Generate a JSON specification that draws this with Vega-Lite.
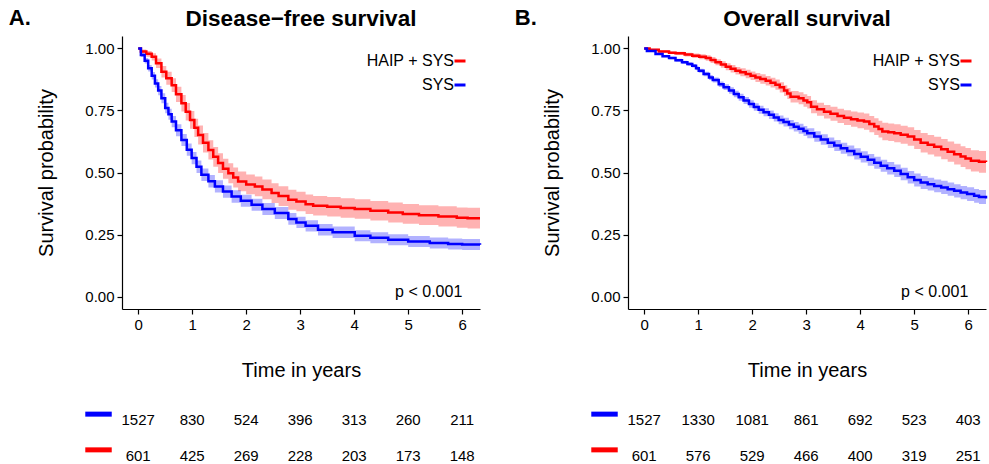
{
  "$schema": "https://vega.github.io/schema/vega-lite/v6.json",
  "padding": {"left": 8, "top": 6, "right": 0, "bottom": 0},
  "config": {
    "view": {"stroke": null},
    "font": "Liberation Sans",
    "axis": {"grid": false, "domainColor": "black", "tickColor": "black", "labelColor": "black", "titleColor": "black", "labelFontSize": 15, "titleFontSize": 20, "titleFontWeight": "normal", "tickSize": 5, "labelPadding": 3, "domainWidth": 1.2, "tickWidth": 1.2, "labelFont": "Liberation Sans", "titleFont": "Liberation Sans"},
    "axisX": {"titlePadding": 28},
    "axisY": {"titlePadding": 28},
    "title": {"font": "Liberation Sans", "color": "black"},
    "text": {"font": "Liberation Sans", "color": "black"}
  },
  "datasets": {
    "dfs": [
      {"g":"HAIP + SYS","t":0,"s":1,"lo":1,"hi":1},
      {"g":"HAIP + SYS","t":0.05,"s":0.988,"lo":0.98,"hi":0.996},
      {"g":"HAIP + SYS","t":0.15,"s":0.978,"lo":0.966,"hi":0.99},
      {"g":"HAIP + SYS","t":0.25,"s":0.966,"lo":0.951,"hi":0.981},
      {"g":"HAIP + SYS","t":0.33,"s":0.94,"lo":0.921,"hi":0.959},
      {"g":"HAIP + SYS","t":0.43,"s":0.906,"lo":0.883,"hi":0.929},
      {"g":"HAIP + SYS","t":0.52,"s":0.88,"lo":0.854,"hi":0.906},
      {"g":"HAIP + SYS","t":0.62,"s":0.852,"lo":0.824,"hi":0.88},
      {"g":"HAIP + SYS","t":0.7,"s":0.815,"lo":0.784,"hi":0.846},
      {"g":"HAIP + SYS","t":0.8,"s":0.779,"lo":0.746,"hi":0.812},
      {"g":"HAIP + SYS","t":0.88,"s":0.745,"lo":0.71,"hi":0.78},
      {"g":"HAIP + SYS","t":0.96,"s":0.712,"lo":0.676,"hi":0.748},
      {"g":"HAIP + SYS","t":1.04,"s":0.68,"lo":0.643,"hi":0.717},
      {"g":"HAIP + SYS","t":1.11,"s":0.651,"lo":0.613,"hi":0.689},
      {"g":"HAIP + SYS","t":1.2,"s":0.62,"lo":0.581,"hi":0.659},
      {"g":"HAIP + SYS","t":1.3,"s":0.591,"lo":0.552,"hi":0.63},
      {"g":"HAIP + SYS","t":1.39,"s":0.563,"lo":0.523,"hi":0.603},
      {"g":"HAIP + SYS","t":1.48,"s":0.538,"lo":0.498,"hi":0.578},
      {"g":"HAIP + SYS","t":1.57,"s":0.515,"lo":0.475,"hi":0.555},
      {"g":"HAIP + SYS","t":1.67,"s":0.497,"lo":0.457,"hi":0.537},
      {"g":"HAIP + SYS","t":1.76,"s":0.48,"lo":0.44,"hi":0.52},
      {"g":"HAIP + SYS","t":1.85,"s":0.464,"lo":0.424,"hi":0.504},
      {"g":"HAIP + SYS","t":2.0,"s":0.452,"lo":0.412,"hi":0.492},
      {"g":"HAIP + SYS","t":2.16,"s":0.444,"lo":0.404,"hi":0.484},
      {"g":"HAIP + SYS","t":2.3,"s":0.432,"lo":0.392,"hi":0.472},
      {"g":"HAIP + SYS","t":2.47,"s":0.417,"lo":0.377,"hi":0.457},
      {"g":"HAIP + SYS","t":2.6,"s":0.405,"lo":0.365,"hi":0.445},
      {"g":"HAIP + SYS","t":2.78,"s":0.39,"lo":0.35,"hi":0.43},
      {"g":"HAIP + SYS","t":2.93,"s":0.383,"lo":0.344,"hi":0.422},
      {"g":"HAIP + SYS","t":3.1,"s":0.372,"lo":0.333,"hi":0.411},
      {"g":"HAIP + SYS","t":3.24,"s":0.366,"lo":0.327,"hi":0.405},
      {"g":"HAIP + SYS","t":3.5,"s":0.362,"lo":0.323,"hi":0.401},
      {"g":"HAIP + SYS","t":3.75,"s":0.357,"lo":0.318,"hi":0.396},
      {"g":"HAIP + SYS","t":4.01,"s":0.353,"lo":0.314,"hi":0.392},
      {"g":"HAIP + SYS","t":4.3,"s":0.346,"lo":0.307,"hi":0.385},
      {"g":"HAIP + SYS","t":4.63,"s":0.339,"lo":0.299,"hi":0.379},
      {"g":"HAIP + SYS","t":4.9,"s":0.333,"lo":0.293,"hi":0.373},
      {"g":"HAIP + SYS","t":5.2,"s":0.328,"lo":0.288,"hi":0.368},
      {"g":"HAIP + SYS","t":5.56,"s":0.323,"lo":0.282,"hi":0.364},
      {"g":"HAIP + SYS","t":5.9,"s":0.318,"lo":0.277,"hi":0.359},
      {"g":"HAIP + SYS","t":6.1,"s":0.316,"lo":0.274,"hi":0.358},
      {"g":"HAIP + SYS","t":6.33,"s":0.316,"lo":0.274,"hi":0.358},
      {"g":"SYS","t":0,"s":1,"lo":1,"hi":1},
      {"g":"SYS","t":0.05,"s":0.973,"lo":0.965,"hi":0.981},
      {"g":"SYS","t":0.12,"s":0.95,"lo":0.939,"hi":0.961},
      {"g":"SYS","t":0.185,"s":0.92,"lo":0.907,"hi":0.933},
      {"g":"SYS","t":0.25,"s":0.89,"lo":0.875,"hi":0.905},
      {"g":"SYS","t":0.31,"s":0.859,"lo":0.842,"hi":0.876},
      {"g":"SYS","t":0.37,"s":0.83,"lo":0.811,"hi":0.849},
      {"g":"SYS","t":0.43,"s":0.799,"lo":0.779,"hi":0.819},
      {"g":"SYS","t":0.5,"s":0.76,"lo":0.739,"hi":0.781},
      {"g":"SYS","t":0.56,"s":0.735,"lo":0.713,"hi":0.757},
      {"g":"SYS","t":0.62,"s":0.705,"lo":0.682,"hi":0.728},
      {"g":"SYS","t":0.7,"s":0.67,"lo":0.646,"hi":0.694},
      {"g":"SYS","t":0.8,"s":0.631,"lo":0.607,"hi":0.655},
      {"g":"SYS","t":0.9,"s":0.592,"lo":0.567,"hi":0.617},
      {"g":"SYS","t":0.99,"s":0.558,"lo":0.533,"hi":0.583},
      {"g":"SYS","t":1.08,"s":0.523,"lo":0.498,"hi":0.548},
      {"g":"SYS","t":1.17,"s":0.491,"lo":0.466,"hi":0.516},
      {"g":"SYS","t":1.3,"s":0.465,"lo":0.44,"hi":0.49},
      {"g":"SYS","t":1.42,"s":0.444,"lo":0.419,"hi":0.469},
      {"g":"SYS","t":1.57,"s":0.423,"lo":0.398,"hi":0.448},
      {"g":"SYS","t":1.73,"s":0.403,"lo":0.378,"hi":0.428},
      {"g":"SYS","t":1.9,"s":0.386,"lo":0.362,"hi":0.41},
      {"g":"SYS","t":2.1,"s":0.37,"lo":0.346,"hi":0.394},
      {"g":"SYS","t":2.3,"s":0.353,"lo":0.329,"hi":0.377},
      {"g":"SYS","t":2.53,"s":0.337,"lo":0.313,"hi":0.361},
      {"g":"SYS","t":2.78,"s":0.313,"lo":0.289,"hi":0.337},
      {"g":"SYS","t":2.93,"s":0.299,"lo":0.276,"hi":0.322},
      {"g":"SYS","t":3.1,"s":0.285,"lo":0.262,"hi":0.308},
      {"g":"SYS","t":3.33,"s":0.269,"lo":0.246,"hi":0.292},
      {"g":"SYS","t":3.6,"s":0.259,"lo":0.236,"hi":0.282},
      {"g":"SYS","t":4.01,"s":0.245,"lo":0.223,"hi":0.267},
      {"g":"SYS","t":4.3,"s":0.237,"lo":0.215,"hi":0.259},
      {"g":"SYS","t":4.63,"s":0.229,"lo":0.207,"hi":0.251},
      {"g":"SYS","t":5.0,"s":0.222,"lo":0.2,"hi":0.244},
      {"g":"SYS","t":5.4,"s":0.216,"lo":0.194,"hi":0.238},
      {"g":"SYS","t":5.74,"s":0.212,"lo":0.19,"hi":0.234},
      {"g":"SYS","t":6.0,"s":0.21,"lo":0.188,"hi":0.232},
      {"g":"SYS","t":6.33,"s":0.209,"lo":0.187,"hi":0.231}
    ],
    "os": [
      {"g":"HAIP + SYS","t":0,"s":1,"lo":1,"hi":1},
      {"g":"HAIP + SYS","t":0.1,"s":0.995,"lo":0.991,"hi":0.999},
      {"g":"HAIP + SYS","t":0.27,"s":0.988,"lo":0.983,"hi":0.993},
      {"g":"HAIP + SYS","t":0.46,"s":0.983,"lo":0.978,"hi":0.988},
      {"g":"HAIP + SYS","t":0.58,"s":0.98,"lo":0.973,"hi":0.987},
      {"g":"HAIP + SYS","t":0.75,"s":0.975,"lo":0.967,"hi":0.983},
      {"g":"HAIP + SYS","t":0.89,"s":0.97,"lo":0.961,"hi":0.979},
      {"g":"HAIP + SYS","t":1.02,"s":0.966,"lo":0.956,"hi":0.976},
      {"g":"HAIP + SYS","t":1.14,"s":0.961,"lo":0.95,"hi":0.972},
      {"g":"HAIP + SYS","t":1.23,"s":0.953,"lo":0.941,"hi":0.965},
      {"g":"HAIP + SYS","t":1.32,"s":0.944,"lo":0.932,"hi":0.956},
      {"g":"HAIP + SYS","t":1.42,"s":0.935,"lo":0.922,"hi":0.948},
      {"g":"HAIP + SYS","t":1.51,"s":0.926,"lo":0.912,"hi":0.94},
      {"g":"HAIP + SYS","t":1.6,"s":0.918,"lo":0.903,"hi":0.933},
      {"g":"HAIP + SYS","t":1.69,"s":0.91,"lo":0.895,"hi":0.925},
      {"g":"HAIP + SYS","t":1.78,"s":0.904,"lo":0.888,"hi":0.92},
      {"g":"HAIP + SYS","t":1.88,"s":0.897,"lo":0.88,"hi":0.914},
      {"g":"HAIP + SYS","t":1.97,"s":0.89,"lo":0.873,"hi":0.907},
      {"g":"HAIP + SYS","t":2.06,"s":0.883,"lo":0.865,"hi":0.901},
      {"g":"HAIP + SYS","t":2.15,"s":0.877,"lo":0.858,"hi":0.896},
      {"g":"HAIP + SYS","t":2.25,"s":0.87,"lo":0.851,"hi":0.889},
      {"g":"HAIP + SYS","t":2.34,"s":0.862,"lo":0.842,"hi":0.882},
      {"g":"HAIP + SYS","t":2.43,"s":0.854,"lo":0.833,"hi":0.875},
      {"g":"HAIP + SYS","t":2.51,"s":0.843,"lo":0.822,"hi":0.864},
      {"g":"HAIP + SYS","t":2.59,"s":0.83,"lo":0.808,"hi":0.852},
      {"g":"HAIP + SYS","t":2.65,"s":0.818,"lo":0.796,"hi":0.84},
      {"g":"HAIP + SYS","t":2.71,"s":0.805,"lo":0.782,"hi":0.828},
      {"g":"HAIP + SYS","t":2.86,"s":0.799,"lo":0.775,"hi":0.823},
      {"g":"HAIP + SYS","t":2.95,"s":0.79,"lo":0.765,"hi":0.815},
      {"g":"HAIP + SYS","t":3.02,"s":0.783,"lo":0.758,"hi":0.808},
      {"g":"HAIP + SYS","t":3.09,"s":0.765,"lo":0.739,"hi":0.791},
      {"g":"HAIP + SYS","t":3.2,"s":0.755,"lo":0.729,"hi":0.781},
      {"g":"HAIP + SYS","t":3.33,"s":0.745,"lo":0.718,"hi":0.772},
      {"g":"HAIP + SYS","t":3.45,"s":0.737,"lo":0.709,"hi":0.765},
      {"g":"HAIP + SYS","t":3.58,"s":0.728,"lo":0.699,"hi":0.757},
      {"g":"HAIP + SYS","t":3.7,"s":0.721,"lo":0.691,"hi":0.751},
      {"g":"HAIP + SYS","t":3.83,"s":0.715,"lo":0.684,"hi":0.746},
      {"g":"HAIP + SYS","t":3.95,"s":0.71,"lo":0.678,"hi":0.742},
      {"g":"HAIP + SYS","t":4.07,"s":0.705,"lo":0.672,"hi":0.738},
      {"g":"HAIP + SYS","t":4.17,"s":0.695,"lo":0.662,"hi":0.728},
      {"g":"HAIP + SYS","t":4.26,"s":0.685,"lo":0.651,"hi":0.719},
      {"g":"HAIP + SYS","t":4.34,"s":0.675,"lo":0.641,"hi":0.709},
      {"g":"HAIP + SYS","t":4.41,"s":0.665,"lo":0.63,"hi":0.7},
      {"g":"HAIP + SYS","t":4.52,"s":0.662,"lo":0.627,"hi":0.697},
      {"g":"HAIP + SYS","t":4.63,"s":0.658,"lo":0.622,"hi":0.694},
      {"g":"HAIP + SYS","t":4.75,"s":0.652,"lo":0.616,"hi":0.688},
      {"g":"HAIP + SYS","t":4.88,"s":0.645,"lo":0.608,"hi":0.682},
      {"g":"HAIP + SYS","t":5.0,"s":0.633,"lo":0.595,"hi":0.671},
      {"g":"HAIP + SYS","t":5.12,"s":0.62,"lo":0.581,"hi":0.659},
      {"g":"HAIP + SYS","t":5.25,"s":0.612,"lo":0.573,"hi":0.651},
      {"g":"HAIP + SYS","t":5.37,"s":0.604,"lo":0.564,"hi":0.644},
      {"g":"HAIP + SYS","t":5.5,"s":0.594,"lo":0.553,"hi":0.635},
      {"g":"HAIP + SYS","t":5.62,"s":0.584,"lo":0.543,"hi":0.625},
      {"g":"HAIP + SYS","t":5.74,"s":0.574,"lo":0.532,"hi":0.616},
      {"g":"HAIP + SYS","t":5.86,"s":0.564,"lo":0.522,"hi":0.606},
      {"g":"HAIP + SYS","t":5.95,"s":0.556,"lo":0.513,"hi":0.599},
      {"g":"HAIP + SYS","t":6.05,"s":0.547,"lo":0.504,"hi":0.59},
      {"g":"HAIP + SYS","t":6.2,"s":0.543,"lo":0.499,"hi":0.587},
      {"g":"HAIP + SYS","t":6.33,"s":0.542,"lo":0.498,"hi":0.586},
      {"g":"SYS","t":0,"s":1,"lo":1,"hi":1},
      {"g":"SYS","t":0.05,"s":0.99,"lo":0.987,"hi":0.993},
      {"g":"SYS","t":0.21,"s":0.977,"lo":0.973,"hi":0.981},
      {"g":"SYS","t":0.34,"s":0.968,"lo":0.964,"hi":0.972},
      {"g":"SYS","t":0.46,"s":0.961,"lo":0.956,"hi":0.966},
      {"g":"SYS","t":0.58,"s":0.952,"lo":0.946,"hi":0.958},
      {"g":"SYS","t":0.7,"s":0.944,"lo":0.938,"hi":0.95},
      {"g":"SYS","t":0.8,"s":0.937,"lo":0.93,"hi":0.944},
      {"g":"SYS","t":0.89,"s":0.93,"lo":0.923,"hi":0.937},
      {"g":"SYS","t":0.96,"s":0.92,"lo":0.912,"hi":0.928},
      {"g":"SYS","t":1.01,"s":0.91,"lo":0.902,"hi":0.918},
      {"g":"SYS","t":1.1,"s":0.897,"lo":0.888,"hi":0.906},
      {"g":"SYS","t":1.2,"s":0.883,"lo":0.873,"hi":0.893},
      {"g":"SYS","t":1.27,"s":0.873,"lo":0.863,"hi":0.883},
      {"g":"SYS","t":1.38,"s":0.856,"lo":0.845,"hi":0.867},
      {"g":"SYS","t":1.47,"s":0.844,"lo":0.832,"hi":0.856},
      {"g":"SYS","t":1.57,"s":0.83,"lo":0.817,"hi":0.843},
      {"g":"SYS","t":1.66,"s":0.816,"lo":0.803,"hi":0.829},
      {"g":"SYS","t":1.75,"s":0.803,"lo":0.789,"hi":0.817},
      {"g":"SYS","t":1.84,"s":0.79,"lo":0.776,"hi":0.804},
      {"g":"SYS","t":1.94,"s":0.776,"lo":0.761,"hi":0.791},
      {"g":"SYS","t":2.03,"s":0.764,"lo":0.749,"hi":0.779},
      {"g":"SYS","t":2.12,"s":0.753,"lo":0.737,"hi":0.769},
      {"g":"SYS","t":2.21,"s":0.743,"lo":0.727,"hi":0.759},
      {"g":"SYS","t":2.31,"s":0.733,"lo":0.716,"hi":0.75},
      {"g":"SYS","t":2.4,"s":0.722,"lo":0.705,"hi":0.739},
      {"g":"SYS","t":2.49,"s":0.712,"lo":0.694,"hi":0.73},
      {"g":"SYS","t":2.58,"s":0.703,"lo":0.685,"hi":0.721},
      {"g":"SYS","t":2.68,"s":0.693,"lo":0.674,"hi":0.712},
      {"g":"SYS","t":2.77,"s":0.684,"lo":0.665,"hi":0.703},
      {"g":"SYS","t":2.86,"s":0.676,"lo":0.656,"hi":0.696},
      {"g":"SYS","t":2.95,"s":0.667,"lo":0.647,"hi":0.687},
      {"g":"SYS","t":3.02,"s":0.658,"lo":0.638,"hi":0.678},
      {"g":"SYS","t":3.15,"s":0.645,"lo":0.624,"hi":0.666},
      {"g":"SYS","t":3.27,"s":0.633,"lo":0.612,"hi":0.654},
      {"g":"SYS","t":3.4,"s":0.62,"lo":0.599,"hi":0.641},
      {"g":"SYS","t":3.52,"s":0.609,"lo":0.587,"hi":0.631},
      {"g":"SYS","t":3.64,"s":0.598,"lo":0.576,"hi":0.62},
      {"g":"SYS","t":3.76,"s":0.587,"lo":0.565,"hi":0.609},
      {"g":"SYS","t":3.89,"s":0.575,"lo":0.552,"hi":0.598},
      {"g":"SYS","t":4.01,"s":0.563,"lo":0.54,"hi":0.586},
      {"g":"SYS","t":4.14,"s":0.551,"lo":0.527,"hi":0.575},
      {"g":"SYS","t":4.26,"s":0.539,"lo":0.515,"hi":0.563},
      {"g":"SYS","t":4.38,"s":0.527,"lo":0.503,"hi":0.551},
      {"g":"SYS","t":4.5,"s":0.517,"lo":0.492,"hi":0.542},
      {"g":"SYS","t":4.63,"s":0.507,"lo":0.482,"hi":0.532},
      {"g":"SYS","t":4.75,"s":0.494,"lo":0.469,"hi":0.519},
      {"g":"SYS","t":4.88,"s":0.481,"lo":0.456,"hi":0.506},
      {"g":"SYS","t":5.0,"s":0.47,"lo":0.444,"hi":0.496},
      {"g":"SYS","t":5.12,"s":0.46,"lo":0.434,"hi":0.486},
      {"g":"SYS","t":5.25,"s":0.453,"lo":0.427,"hi":0.479},
      {"g":"SYS","t":5.37,"s":0.446,"lo":0.42,"hi":0.472},
      {"g":"SYS","t":5.5,"s":0.44,"lo":0.413,"hi":0.467},
      {"g":"SYS","t":5.62,"s":0.433,"lo":0.406,"hi":0.46},
      {"g":"SYS","t":5.74,"s":0.426,"lo":0.399,"hi":0.453},
      {"g":"SYS","t":5.86,"s":0.419,"lo":0.392,"hi":0.446},
      {"g":"SYS","t":5.98,"s":0.413,"lo":0.385,"hi":0.441},
      {"g":"SYS","t":6.11,"s":0.406,"lo":0.378,"hi":0.434},
      {"g":"SYS","t":6.2,"s":0.401,"lo":0.373,"hi":0.429},
      {"g":"SYS","t":6.33,"s":0.395,"lo":0.367,"hi":0.423}
    ],
    "riskDFS": [
      {"g":"SYS","t":0,"n":1527},{"g":"SYS","t":1,"n":830},{"g":"SYS","t":2,"n":524},{"g":"SYS","t":3,"n":396},{"g":"SYS","t":4,"n":313},{"g":"SYS","t":5,"n":260},{"g":"SYS","t":6,"n":211},
      {"g":"HAIP + SYS","t":0,"n":601},{"g":"HAIP + SYS","t":1,"n":425},{"g":"HAIP + SYS","t":2,"n":269},{"g":"HAIP + SYS","t":3,"n":228},{"g":"HAIP + SYS","t":4,"n":203},{"g":"HAIP + SYS","t":5,"n":173},{"g":"HAIP + SYS","t":6,"n":148}
    ],
    "riskOS": [
      {"g":"SYS","t":0,"n":1527},{"g":"SYS","t":1,"n":1330},{"g":"SYS","t":2,"n":1081},{"g":"SYS","t":3,"n":861},{"g":"SYS","t":4,"n":692},{"g":"SYS","t":5,"n":523},{"g":"SYS","t":6,"n":403},
      {"g":"HAIP + SYS","t":0,"n":601},{"g":"HAIP + SYS","t":1,"n":576},{"g":"HAIP + SYS","t":2,"n":529},{"g":"HAIP + SYS","t":3,"n":466},{"g":"HAIP + SYS","t":4,"n":400},{"g":"HAIP + SYS","t":5,"n":319},{"g":"HAIP + SYS","t":6,"n":251}
    ],
    "groups": [{"g":"SYS"},{"g":"HAIP + SYS"}],
    "pval": [{"p":"p < 0.001"}]
  },
  "resolve": {"scale": {"color": "independent", "fill": "independent", "stroke": "independent", "x": "independent", "y": "independent"}, "legend": {"color": "independent"}},
  "spacing": 29,
  "hconcat": [
    {
      "title": {"text": "A.", "orient": "left", "anchor": "end", "angle": 0, "baseline": "top", "fontSize": 22, "fontWeight": "bold", "offset": -16},
      "resolve": {"scale": {"color": "independent", "fill": "independent", "stroke": "independent", "x": "independent", "y": "independent"}, "legend": {"color": "independent"}},
      "spacing": 31,
      "vconcat": [
        {
          "width": 358, "height": 273,
          "title": {"text": "Disease−free survival", "fontSize": 22.5, "fontWeight": "bold", "anchor": "middle", "offset": 6},
          "data": {"name": "dfs"},
          "layer": [
            {
              "mark": {"type": "area", "interpolate": "step-after", "opacity": 0.3},
              "encoding": {
                "x": {"field": "t", "type": "quantitative", "title": "Time in years", "scale": {"domain": [-0.3, 6.33], "nice": false, "zero": false}, "axis": {"values": [0,1,2,3,4,5,6]}},
                "y": {"field": "lo", "type": "quantitative", "title": "Survival probability", "scale": {"domain": [-0.05, 1.05], "nice": false, "zero": false}, "axis": {"values": [0,0.25,0.5,0.75,1], "format": ".2f"}},
                "y2": {"field": "hi"},
                "fill": {"field": "g", "type": "nominal", "scale": {"domain": ["SYS", "HAIP + SYS"], "range": ["#0000FF", "#FF0000"]}, "legend": null}
              }
            },
            {
              "mark": {"type": "line", "interpolate": "step-after", "strokeWidth": 2.5},
              "encoding": {
                "x": {"field": "t", "type": "quantitative"},
                "y": {"field": "s", "type": "quantitative"},
                "color": {"field": "g", "type": "nominal", "scale": {"domain": ["HAIP + SYS", "SYS"], "range": ["#FF0000", "#0000FF"]},
                  "legend": {"title": null, "orient": "none", "legendX": 330, "legendY": 17, "padding": 0, "symbolType": "stroke", "symbolStrokeWidth": 3, "symbolSize": 121, "labelFontSize": 16, "labelColor": "black", "labelFont": "Liberation Sans", "labelAlign": "right", "labelOffset": -14, "rowPadding": 8}}
              }
            },
            {
              "data": {"name": "pval"},
              "mark": {"type": "text", "fontSize": 16, "align": "center", "baseline": "middle"},
              "encoding": {"x": {"datum": 5.38}, "y": {"datum": 0.02}, "text": {"field": "p"}}
            }
          ]
        },
        {
          "width": 358, "height": 50,
          "layer": [
            {
              "data": {"name": "riskDFS"},
              "mark": {"type": "text", "fontSize": 15, "baseline": "middle", "align": "center"},
              "encoding": {
                "x": {"field": "t", "type": "quantitative", "scale": {"domain": [-0.3, 6.33], "nice": false, "zero": false}, "axis": null},
                "y": {"field": "g", "type": "nominal", "scale": {"type": "point", "domain": ["SYS", "HAIP + SYS"], "padding": 0.2}, "axis": null},
                "text": {"field": "n", "type": "quantitative", "format": "d"}
              }
            },
            {
              "data": {"name": "groups"},
              "mark": {"type": "rule", "strokeWidth": 5, "yOffset": -6},
              "encoding": {
                "x": {"datum": -0.98}, "x2": {"datum": -0.49},
                "y": {"field": "g", "type": "nominal"},
                "stroke": {"field": "g", "type": "nominal", "scale": {"domain": ["HAIP + SYS", "SYS"], "range": ["#FF0000", "#0000FF"]}, "legend": null}
              }
            }
          ]
        }
      ]
    },
    {
      "title": {"text": "B.", "orient": "left", "anchor": "end", "angle": 0, "baseline": "top", "fontSize": 22, "fontWeight": "bold", "offset": -16},
      "resolve": {"scale": {"color": "independent", "fill": "independent", "stroke": "independent", "x": "independent", "y": "independent"}, "legend": {"color": "independent"}},
      "spacing": 31,
      "vconcat": [
        {
          "width": 358, "height": 273,
          "title": {"text": "Overall survival", "fontSize": 22.5, "fontWeight": "bold", "anchor": "middle", "offset": 6},
          "data": {"name": "os"},
          "layer": [
            {
              "mark": {"type": "area", "interpolate": "step-after", "opacity": 0.3},
              "encoding": {
                "x": {"field": "t", "type": "quantitative", "title": "Time in years", "scale": {"domain": [-0.3, 6.33], "nice": false, "zero": false}, "axis": {"values": [0,1,2,3,4,5,6]}},
                "y": {"field": "lo", "type": "quantitative", "title": "Survival probability", "scale": {"domain": [-0.05, 1.05], "nice": false, "zero": false}, "axis": {"values": [0,0.25,0.5,0.75,1], "format": ".2f"}},
                "y2": {"field": "hi"},
                "fill": {"field": "g", "type": "nominal", "scale": {"domain": ["SYS", "HAIP + SYS"], "range": ["#0000FF", "#FF0000"]}, "legend": null}
              }
            },
            {
              "mark": {"type": "line", "interpolate": "step-after", "strokeWidth": 2.5},
              "encoding": {
                "x": {"field": "t", "type": "quantitative"},
                "y": {"field": "s", "type": "quantitative"},
                "color": {"field": "g", "type": "nominal", "scale": {"domain": ["HAIP + SYS", "SYS"], "range": ["#FF0000", "#0000FF"]},
                  "legend": {"title": null, "orient": "none", "legendX": 330, "legendY": 17, "padding": 0, "symbolType": "stroke", "symbolStrokeWidth": 3, "symbolSize": 121, "labelFontSize": 16, "labelColor": "black", "labelFont": "Liberation Sans", "labelAlign": "right", "labelOffset": -14, "rowPadding": 8}}
              }
            },
            {
              "data": {"name": "pval"},
              "mark": {"type": "text", "fontSize": 16, "align": "center", "baseline": "middle"},
              "encoding": {"x": {"datum": 5.38}, "y": {"datum": 0.02}, "text": {"field": "p"}}
            }
          ]
        },
        {
          "width": 358, "height": 50,
          "layer": [
            {
              "data": {"name": "riskOS"},
              "mark": {"type": "text", "fontSize": 15, "baseline": "middle", "align": "center"},
              "encoding": {
                "x": {"field": "t", "type": "quantitative", "scale": {"domain": [-0.3, 6.33], "nice": false, "zero": false}, "axis": null},
                "y": {"field": "g", "type": "nominal", "scale": {"type": "point", "domain": ["SYS", "HAIP + SYS"], "padding": 0.2}, "axis": null},
                "text": {"field": "n", "type": "quantitative", "format": "d"}
              }
            },
            {
              "data": {"name": "groups"},
              "mark": {"type": "rule", "strokeWidth": 5, "yOffset": -6},
              "encoding": {
                "x": {"datum": -0.98}, "x2": {"datum": -0.49},
                "y": {"field": "g", "type": "nominal"},
                "stroke": {"field": "g", "type": "nominal", "scale": {"domain": ["HAIP + SYS", "SYS"], "range": ["#FF0000", "#0000FF"]}, "legend": null}
              }
            }
          ]
        }
      ]
    }
  ]
}
